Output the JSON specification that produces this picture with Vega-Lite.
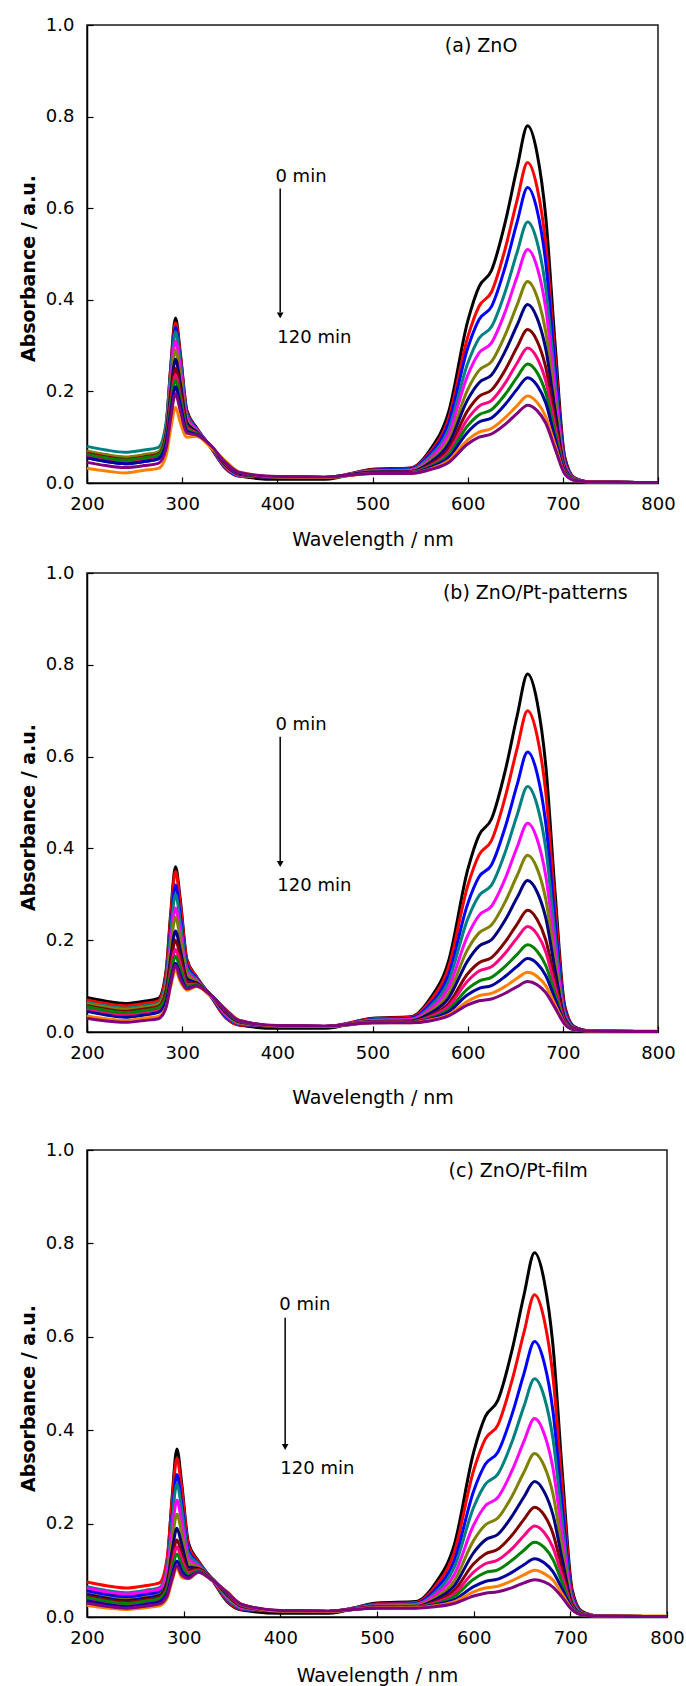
{
"$schema": "https://vega.github.io/schema/vega-lite/v6.json",
"background": "white",
"padding": {"left": 18, "top": 15, "right": 5, "bottom": 0},
"spacing": 13,
"config": {
 "font": "DejaVu Sans",
 "view": {"stroke": "#1a1a1a", "strokeWidth": 1.5},
 "axis": {"domainColor": "#000", "domainWidth": 1.5, "tickColor": "#000", "tickWidth": 1.2, "tickSize": -6, "labelFont": "DejaVu Sans", "labelFontSize": 18, "labelColor": "#000", "titleFont": "DejaVu Sans", "titleFontSize": 19, "titleColor": "#000", "grid": false, "labelFlush": false, "labelOverlap": false},
 "axisX": {"labelPadding": 18, "titleFontWeight": "normal"},
 "axisY": {"labelPadding": 19, "titleFontWeight": "bold", "titlePadding": 7},
 "line": {"strokeWidth": 3, "interpolate": "monotone"}
},
"datasets": {
"a": [
{"t":0,"x":200,"y":0.060},{"t":0,"x":220,"y":0.052},{"t":0,"x":240,"y":0.047},{"t":0,"x":260,"y":0.052},{"t":0,"x":275,"y":0.058},{"t":0,"x":283,"y":0.120},{"t":0,"x":288,"y":0.255},{"t":0,"x":293,"y":0.360},{"t":0,"x":298,"y":0.285},{"t":0,"x":305,"y":0.158},{"t":0,"x":315,"y":0.121},{"t":0,"x":330,"y":0.078},{"t":0,"x":345,"y":0.033},{"t":0,"x":360,"y":0.015},{"t":0,"x":400,"y":0.008},{"t":0,"x":450,"y":0.008},{"t":0,"x":500,"y":0.030},{"t":0,"x":540,"y":0.033},{"t":0,"x":560,"y":0.071},{"t":0,"x":580,"y":0.155},{"t":0,"x":600,"y":0.353},{"t":0,"x":612,"y":0.429},{"t":0,"x":625,"y":0.464},{"t":0,"x":640,"y":0.574},{"t":0,"x":652,"y":0.689},{"t":0,"x":663,"y":0.780},{"t":0,"x":673,"y":0.719},{"t":0,"x":682,"y":0.582},{"t":0,"x":692,"y":0.300},{"t":0,"x":702,"y":0.057},{"t":0,"x":712,"y":0.012},{"t":0,"x":730,"y":0.002},{"t":0,"x":800,"y":0.001},
{"t":10,"x":200,"y":0.065},{"t":10,"x":220,"y":0.057},{"t":10,"x":240,"y":0.052},{"t":10,"x":260,"y":0.057},{"t":10,"x":275,"y":0.063},{"t":10,"x":283,"y":0.122},{"t":10,"x":288,"y":0.250},{"t":10,"x":293,"y":0.350},{"t":10,"x":298,"y":0.279},{"t":10,"x":305,"y":0.155},{"t":10,"x":315,"y":0.120},{"t":10,"x":330,"y":0.078},{"t":10,"x":345,"y":0.034},{"t":10,"x":360,"y":0.015},{"t":10,"x":400,"y":0.013},{"t":10,"x":450,"y":0.012},{"t":10,"x":500,"y":0.029},{"t":10,"x":540,"y":0.032},{"t":10,"x":560,"y":0.066},{"t":10,"x":580,"y":0.141},{"t":10,"x":600,"y":0.318},{"t":10,"x":612,"y":0.386},{"t":10,"x":625,"y":0.417},{"t":10,"x":640,"y":0.516},{"t":10,"x":652,"y":0.618},{"t":10,"x":663,"y":0.700},{"t":10,"x":673,"y":0.645},{"t":10,"x":682,"y":0.523},{"t":10,"x":692,"y":0.270},{"t":10,"x":702,"y":0.052},{"t":10,"x":712,"y":0.011},{"t":10,"x":730,"y":0.002},{"t":10,"x":800,"y":0.001},
{"t":20,"x":200,"y":0.055},{"t":20,"x":220,"y":0.047},{"t":20,"x":240,"y":0.042},{"t":20,"x":260,"y":0.047},{"t":20,"x":275,"y":0.053},{"t":20,"x":283,"y":0.112},{"t":20,"x":288,"y":0.240},{"t":20,"x":293,"y":0.340},{"t":20,"x":298,"y":0.269},{"t":20,"x":305,"y":0.152},{"t":20,"x":315,"y":0.119},{"t":20,"x":330,"y":0.079},{"t":20,"x":345,"y":0.035},{"t":20,"x":360,"y":0.016},{"t":20,"x":400,"y":0.013},{"t":20,"x":450,"y":0.012},{"t":20,"x":500,"y":0.028},{"t":20,"x":540,"y":0.031},{"t":20,"x":560,"y":0.062},{"t":20,"x":580,"y":0.131},{"t":20,"x":600,"y":0.294},{"t":20,"x":612,"y":0.357},{"t":20,"x":625,"y":0.385},{"t":20,"x":640,"y":0.476},{"t":20,"x":652,"y":0.570},{"t":20,"x":663,"y":0.645},{"t":20,"x":673,"y":0.595},{"t":20,"x":682,"y":0.482},{"t":20,"x":692,"y":0.250},{"t":20,"x":702,"y":0.049},{"t":20,"x":712,"y":0.010},{"t":20,"x":730,"y":0.002},{"t":20,"x":800,"y":0.001},
{"t":30,"x":200,"y":0.080},{"t":30,"x":220,"y":0.072},{"t":30,"x":240,"y":0.067},{"t":30,"x":260,"y":0.072},{"t":30,"x":275,"y":0.078},{"t":30,"x":283,"y":0.130},{"t":30,"x":288,"y":0.243},{"t":30,"x":293,"y":0.330},{"t":30,"x":298,"y":0.268},{"t":30,"x":305,"y":0.149},{"t":30,"x":315,"y":0.118},{"t":30,"x":330,"y":0.079},{"t":30,"x":345,"y":0.036},{"t":30,"x":360,"y":0.016},{"t":30,"x":400,"y":0.013},{"t":30,"x":450,"y":0.012},{"t":30,"x":500,"y":0.027},{"t":30,"x":540,"y":0.029},{"t":30,"x":560,"y":0.057},{"t":30,"x":580,"y":0.117},{"t":30,"x":600,"y":0.261},{"t":30,"x":612,"y":0.316},{"t":30,"x":625,"y":0.341},{"t":30,"x":640,"y":0.421},{"t":30,"x":652,"y":0.504},{"t":30,"x":663,"y":0.570},{"t":30,"x":673,"y":0.526},{"t":30,"x":682,"y":0.426},{"t":30,"x":692,"y":0.222},{"t":30,"x":702,"y":0.044},{"t":30,"x":712,"y":0.010},{"t":30,"x":730,"y":0.002},{"t":30,"x":800,"y":0.001},
{"t":40,"x":200,"y":0.068},{"t":40,"x":220,"y":0.060},{"t":40,"x":240,"y":0.055},{"t":40,"x":260,"y":0.060},{"t":40,"x":275,"y":0.066},{"t":40,"x":283,"y":0.116},{"t":40,"x":288,"y":0.225},{"t":40,"x":293,"y":0.310},{"t":40,"x":298,"y":0.250},{"t":40,"x":305,"y":0.143},{"t":40,"x":315,"y":0.116},{"t":40,"x":330,"y":0.080},{"t":40,"x":345,"y":0.037},{"t":40,"x":360,"y":0.017},{"t":40,"x":400,"y":0.013},{"t":40,"x":450,"y":0.012},{"t":40,"x":500,"y":0.026},{"t":40,"x":540,"y":0.028},{"t":40,"x":560,"y":0.052},{"t":40,"x":580,"y":0.107},{"t":40,"x":600,"y":0.235},{"t":40,"x":612,"y":0.284},{"t":40,"x":625,"y":0.306},{"t":40,"x":640,"y":0.377},{"t":40,"x":652,"y":0.451},{"t":40,"x":663,"y":0.510},{"t":40,"x":673,"y":0.471},{"t":40,"x":682,"y":0.382},{"t":40,"x":692,"y":0.200},{"t":40,"x":702,"y":0.041},{"t":40,"x":712,"y":0.009},{"t":40,"x":730,"y":0.002},{"t":40,"x":800,"y":0.001},
{"t":50,"x":200,"y":0.070},{"t":50,"x":220,"y":0.062},{"t":50,"x":240,"y":0.057},{"t":50,"x":260,"y":0.062},{"t":50,"x":275,"y":0.068},{"t":50,"x":283,"y":0.114},{"t":50,"x":288,"y":0.213},{"t":50,"x":293,"y":0.290},{"t":50,"x":298,"y":0.235},{"t":50,"x":305,"y":0.137},{"t":50,"x":315,"y":0.114},{"t":50,"x":330,"y":0.080},{"t":50,"x":345,"y":0.039},{"t":50,"x":360,"y":0.018},{"t":50,"x":400,"y":0.013},{"t":50,"x":450,"y":0.012},{"t":50,"x":500,"y":0.025},{"t":50,"x":540,"y":0.026},{"t":50,"x":560,"y":0.048},{"t":50,"x":580,"y":0.094},{"t":50,"x":600,"y":0.204},{"t":50,"x":612,"y":0.246},{"t":50,"x":625,"y":0.265},{"t":50,"x":640,"y":0.326},{"t":50,"x":652,"y":0.389},{"t":50,"x":663,"y":0.440},{"t":50,"x":673,"y":0.406},{"t":50,"x":682,"y":0.330},{"t":50,"x":692,"y":0.174},{"t":50,"x":702,"y":0.036},{"t":50,"x":712,"y":0.008},{"t":50,"x":730,"y":0.002},{"t":50,"x":800,"y":0.001},
{"t":60,"x":200,"y":0.062},{"t":60,"x":220,"y":0.054},{"t":60,"x":240,"y":0.049},{"t":60,"x":260,"y":0.054},{"t":60,"x":275,"y":0.060},{"t":60,"x":283,"y":0.104},{"t":60,"x":288,"y":0.197},{"t":60,"x":293,"y":0.270},{"t":60,"x":298,"y":0.218},{"t":60,"x":305,"y":0.131},{"t":60,"x":315,"y":0.112},{"t":60,"x":330,"y":0.080},{"t":60,"x":345,"y":0.040},{"t":60,"x":360,"y":0.019},{"t":60,"x":400,"y":0.013},{"t":60,"x":450,"y":0.012},{"t":60,"x":500,"y":0.024},{"t":60,"x":540,"y":0.025},{"t":60,"x":560,"y":0.044},{"t":60,"x":580,"y":0.085},{"t":60,"x":600,"y":0.182},{"t":60,"x":612,"y":0.219},{"t":60,"x":625,"y":0.236},{"t":60,"x":640,"y":0.290},{"t":60,"x":652,"y":0.345},{"t":60,"x":663,"y":0.390},{"t":60,"x":673,"y":0.360},{"t":60,"x":682,"y":0.293},{"t":60,"x":692,"y":0.156},{"t":60,"x":702,"y":0.033},{"t":60,"x":712,"y":0.008},{"t":60,"x":730,"y":0.002},{"t":60,"x":800,"y":0.001},
{"t":70,"x":200,"y":0.065},{"t":70,"x":220,"y":0.057},{"t":70,"x":240,"y":0.052},{"t":70,"x":260,"y":0.057},{"t":70,"x":275,"y":0.063},{"t":70,"x":283,"y":0.102},{"t":70,"x":288,"y":0.185},{"t":70,"x":293,"y":0.250},{"t":70,"x":298,"y":0.204},{"t":70,"x":305,"y":0.125},{"t":70,"x":315,"y":0.110},{"t":70,"x":330,"y":0.080},{"t":70,"x":345,"y":0.042},{"t":70,"x":360,"y":0.020},{"t":70,"x":400,"y":0.013},{"t":70,"x":450,"y":0.012},{"t":70,"x":500,"y":0.023},{"t":70,"x":540,"y":0.024},{"t":70,"x":560,"y":0.040},{"t":70,"x":580,"y":0.075},{"t":70,"x":600,"y":0.158},{"t":70,"x":612,"y":0.189},{"t":70,"x":625,"y":0.203},{"t":70,"x":640,"y":0.249},{"t":70,"x":652,"y":0.297},{"t":70,"x":663,"y":0.335},{"t":70,"x":673,"y":0.310},{"t":70,"x":682,"y":0.253},{"t":70,"x":692,"y":0.135},{"t":70,"x":702,"y":0.030},{"t":70,"x":712,"y":0.007},{"t":70,"x":730,"y":0.002},{"t":70,"x":800,"y":0.001},
{"t":80,"x":200,"y":0.060},{"t":80,"x":220,"y":0.052},{"t":80,"x":240,"y":0.047},{"t":80,"x":260,"y":0.052},{"t":80,"x":275,"y":0.058},{"t":80,"x":283,"y":0.095},{"t":80,"x":288,"y":0.174},{"t":80,"x":293,"y":0.235},{"t":80,"x":298,"y":0.191},{"t":80,"x":305,"y":0.121},{"t":80,"x":315,"y":0.109},{"t":80,"x":330,"y":0.081},{"t":80,"x":345,"y":0.043},{"t":80,"x":360,"y":0.021},{"t":80,"x":400,"y":0.013},{"t":80,"x":450,"y":0.012},{"t":80,"x":500,"y":0.022},{"t":80,"x":540,"y":0.024},{"t":80,"x":560,"y":0.037},{"t":80,"x":580,"y":0.068},{"t":80,"x":600,"y":0.140},{"t":80,"x":612,"y":0.168},{"t":80,"x":625,"y":0.180},{"t":80,"x":640,"y":0.220},{"t":80,"x":652,"y":0.262},{"t":80,"x":663,"y":0.295},{"t":80,"x":673,"y":0.273},{"t":80,"x":682,"y":0.223},{"t":80,"x":692,"y":0.121},{"t":80,"x":702,"y":0.028},{"t":80,"x":712,"y":0.007},{"t":80,"x":730,"y":0.002},{"t":80,"x":800,"y":0.001},
{"t":90,"x":200,"y":0.063},{"t":90,"x":220,"y":0.055},{"t":90,"x":240,"y":0.050},{"t":90,"x":260,"y":0.055},{"t":90,"x":275,"y":0.061},{"t":90,"x":283,"y":0.095},{"t":90,"x":288,"y":0.168},{"t":90,"x":293,"y":0.225},{"t":90,"x":298,"y":0.185},{"t":90,"x":305,"y":0.118},{"t":90,"x":315,"y":0.108},{"t":90,"x":330,"y":0.081},{"t":90,"x":345,"y":0.044},{"t":90,"x":360,"y":0.021},{"t":90,"x":400,"y":0.013},{"t":90,"x":450,"y":0.012},{"t":90,"x":500,"y":0.022},{"t":90,"x":540,"y":0.023},{"t":90,"x":560,"y":0.035},{"t":90,"x":580,"y":0.062},{"t":90,"x":600,"y":0.125},{"t":90,"x":612,"y":0.149},{"t":90,"x":625,"y":0.160},{"t":90,"x":640,"y":0.195},{"t":90,"x":652,"y":0.231},{"t":90,"x":663,"y":0.260},{"t":90,"x":673,"y":0.241},{"t":90,"x":682,"y":0.197},{"t":90,"x":692,"y":0.108},{"t":90,"x":702,"y":0.026},{"t":90,"x":712,"y":0.007},{"t":90,"x":730,"y":0.002},{"t":90,"x":800,"y":0.001},
{"t":100,"x":200,"y":0.055},{"t":100,"x":220,"y":0.047},{"t":100,"x":240,"y":0.042},{"t":100,"x":260,"y":0.047},{"t":100,"x":275,"y":0.053},{"t":100,"x":283,"y":0.086},{"t":100,"x":288,"y":0.155},{"t":100,"x":293,"y":0.210},{"t":100,"x":298,"y":0.171},{"t":100,"x":305,"y":0.113},{"t":100,"x":315,"y":0.106},{"t":100,"x":330,"y":0.081},{"t":100,"x":345,"y":0.045},{"t":100,"x":360,"y":0.022},{"t":100,"x":400,"y":0.013},{"t":100,"x":450,"y":0.012},{"t":100,"x":500,"y":0.022},{"t":100,"x":540,"y":0.022},{"t":100,"x":560,"y":0.033},{"t":100,"x":580,"y":0.056},{"t":100,"x":600,"y":0.111},{"t":100,"x":612,"y":0.133},{"t":100,"x":625,"y":0.142},{"t":100,"x":640,"y":0.173},{"t":100,"x":652,"y":0.205},{"t":100,"x":663,"y":0.230},{"t":100,"x":673,"y":0.213},{"t":100,"x":682,"y":0.175},{"t":100,"x":692,"y":0.096},{"t":100,"x":702,"y":0.024},{"t":100,"x":712,"y":0.006},{"t":100,"x":730,"y":0.002},{"t":100,"x":800,"y":0.001},
{"t":110,"x":200,"y":0.032},{"t":110,"x":220,"y":0.026},{"t":110,"x":240,"y":0.022},{"t":110,"x":260,"y":0.028},{"t":110,"x":275,"y":0.032},{"t":110,"x":283,"y":0.059},{"t":110,"x":288,"y":0.119},{"t":110,"x":293,"y":0.165},{"t":110,"x":298,"y":0.132},{"t":110,"x":305,"y":0.100},{"t":110,"x":315,"y":0.102},{"t":110,"x":330,"y":0.078},{"t":110,"x":345,"y":0.049},{"t":110,"x":360,"y":0.024},{"t":110,"x":400,"y":0.013},{"t":110,"x":450,"y":0.012},{"t":110,"x":500,"y":0.021},{"t":110,"x":540,"y":0.021},{"t":110,"x":560,"y":0.030},{"t":110,"x":580,"y":0.049},{"t":110,"x":600,"y":0.094},{"t":110,"x":612,"y":0.111},{"t":110,"x":625,"y":0.119},{"t":110,"x":640,"y":0.144},{"t":110,"x":652,"y":0.169},{"t":110,"x":663,"y":0.190},{"t":110,"x":673,"y":0.176},{"t":110,"x":682,"y":0.145},{"t":110,"x":692,"y":0.082},{"t":110,"x":702,"y":0.021},{"t":110,"x":712,"y":0.006},{"t":110,"x":730,"y":0.002},{"t":110,"x":800,"y":0.001},
{"t":120,"x":200,"y":0.045},{"t":120,"x":220,"y":0.038},{"t":120,"x":240,"y":0.034},{"t":120,"x":260,"y":0.038},{"t":120,"x":275,"y":0.043},{"t":120,"x":283,"y":0.075},{"t":120,"x":288,"y":0.143},{"t":120,"x":293,"y":0.195},{"t":120,"x":298,"y":0.158},{"t":120,"x":305,"y":0.109},{"t":120,"x":315,"y":0.105},{"t":120,"x":330,"y":0.082},{"t":120,"x":345,"y":0.046},{"t":120,"x":360,"y":0.023},{"t":120,"x":400,"y":0.014},{"t":120,"x":450,"y":0.013},{"t":120,"x":500,"y":0.021},{"t":120,"x":540,"y":0.021},{"t":120,"x":560,"y":0.029},{"t":120,"x":580,"y":0.045},{"t":120,"x":600,"y":0.085},{"t":120,"x":612,"y":0.100},{"t":120,"x":625,"y":0.107},{"t":120,"x":640,"y":0.129},{"t":120,"x":652,"y":0.152},{"t":120,"x":663,"y":0.170},{"t":120,"x":673,"y":0.158},{"t":120,"x":682,"y":0.131},{"t":120,"x":692,"y":0.074},{"t":120,"x":702,"y":0.020},{"t":120,"x":712,"y":0.006},{"t":120,"x":730,"y":0.002},{"t":120,"x":800,"y":0.001}
],
"b": [
{"t":0,"x":200,"y":0.075},{"t":0,"x":220,"y":0.067},{"t":0,"x":240,"y":0.062},{"t":0,"x":260,"y":0.067},{"t":0,"x":275,"y":0.073},{"t":0,"x":283,"y":0.132},{"t":0,"x":288,"y":0.260},{"t":0,"x":293,"y":0.360},{"t":0,"x":298,"y":0.289},{"t":0,"x":305,"y":0.158},{"t":0,"x":315,"y":0.121},{"t":0,"x":330,"y":0.078},{"t":0,"x":345,"y":0.033},{"t":0,"x":360,"y":0.015},{"t":0,"x":400,"y":0.008},{"t":0,"x":450,"y":0.008},{"t":0,"x":500,"y":0.030},{"t":0,"x":540,"y":0.033},{"t":0,"x":560,"y":0.071},{"t":0,"x":580,"y":0.155},{"t":0,"x":600,"y":0.353},{"t":0,"x":612,"y":0.429},{"t":0,"x":625,"y":0.464},{"t":0,"x":640,"y":0.574},{"t":0,"x":652,"y":0.689},{"t":0,"x":663,"y":0.780},{"t":0,"x":673,"y":0.719},{"t":0,"x":682,"y":0.582},{"t":0,"x":692,"y":0.300},{"t":0,"x":702,"y":0.057},{"t":0,"x":712,"y":0.012},{"t":0,"x":730,"y":0.002},{"t":0,"x":800,"y":0.001},
{"t":10,"x":200,"y":0.070},{"t":10,"x":220,"y":0.062},{"t":10,"x":240,"y":0.057},{"t":10,"x":260,"y":0.062},{"t":10,"x":275,"y":0.068},{"t":10,"x":283,"y":0.126},{"t":10,"x":288,"y":0.252},{"t":10,"x":293,"y":0.350},{"t":10,"x":298,"y":0.280},{"t":10,"x":305,"y":0.155},{"t":10,"x":315,"y":0.120},{"t":10,"x":330,"y":0.078},{"t":10,"x":345,"y":0.034},{"t":10,"x":360,"y":0.015},{"t":10,"x":400,"y":0.013},{"t":10,"x":450,"y":0.012},{"t":10,"x":500,"y":0.029},{"t":10,"x":540,"y":0.032},{"t":10,"x":560,"y":0.066},{"t":10,"x":580,"y":0.141},{"t":10,"x":600,"y":0.318},{"t":10,"x":612,"y":0.386},{"t":10,"x":625,"y":0.417},{"t":10,"x":640,"y":0.516},{"t":10,"x":652,"y":0.618},{"t":10,"x":663,"y":0.700},{"t":10,"x":673,"y":0.645},{"t":10,"x":682,"y":0.523},{"t":10,"x":692,"y":0.270},{"t":10,"x":702,"y":0.052},{"t":10,"x":712,"y":0.011},{"t":10,"x":730,"y":0.002},{"t":10,"x":800,"y":0.001},
{"t":20,"x":200,"y":0.060},{"t":20,"x":220,"y":0.052},{"t":20,"x":240,"y":0.047},{"t":20,"x":260,"y":0.052},{"t":20,"x":275,"y":0.058},{"t":20,"x":283,"y":0.112},{"t":20,"x":288,"y":0.229},{"t":20,"x":293,"y":0.320},{"t":20,"x":298,"y":0.255},{"t":20,"x":305,"y":0.146},{"t":20,"x":315,"y":0.117},{"t":20,"x":330,"y":0.079},{"t":20,"x":345,"y":0.036},{"t":20,"x":360,"y":0.017},{"t":20,"x":400,"y":0.013},{"t":20,"x":450,"y":0.012},{"t":20,"x":500,"y":0.027},{"t":20,"x":540,"y":0.030},{"t":20,"x":560,"y":0.059},{"t":20,"x":580,"y":0.125},{"t":20,"x":600,"y":0.279},{"t":20,"x":612,"y":0.338},{"t":20,"x":625,"y":0.364},{"t":20,"x":640,"y":0.450},{"t":20,"x":652,"y":0.539},{"t":20,"x":663,"y":0.610},{"t":20,"x":673,"y":0.563},{"t":20,"x":682,"y":0.456},{"t":20,"x":692,"y":0.237},{"t":20,"x":702,"y":0.047},{"t":20,"x":712,"y":0.010},{"t":20,"x":730,"y":0.002},{"t":20,"x":800,"y":0.001},
{"t":30,"x":200,"y":0.065},{"t":30,"x":220,"y":0.057},{"t":30,"x":240,"y":0.052},{"t":30,"x":260,"y":0.057},{"t":30,"x":275,"y":0.063},{"t":30,"x":283,"y":0.112},{"t":30,"x":288,"y":0.218},{"t":30,"x":293,"y":0.300},{"t":30,"x":298,"y":0.241},{"t":30,"x":305,"y":0.140},{"t":30,"x":315,"y":0.115},{"t":30,"x":330,"y":0.080},{"t":30,"x":345,"y":0.038},{"t":30,"x":360,"y":0.018},{"t":30,"x":400,"y":0.013},{"t":30,"x":450,"y":0.012},{"t":30,"x":500,"y":0.026},{"t":30,"x":540,"y":0.028},{"t":30,"x":560,"y":0.054},{"t":30,"x":580,"y":0.111},{"t":30,"x":600,"y":0.246},{"t":30,"x":612,"y":0.297},{"t":30,"x":625,"y":0.320},{"t":30,"x":640,"y":0.395},{"t":30,"x":652,"y":0.473},{"t":30,"x":663,"y":0.535},{"t":30,"x":673,"y":0.494},{"t":30,"x":682,"y":0.401},{"t":30,"x":692,"y":0.209},{"t":30,"x":702,"y":0.042},{"t":30,"x":712,"y":0.009},{"t":30,"x":730,"y":0.002},{"t":30,"x":800,"y":0.001},
{"t":40,"x":200,"y":0.060},{"t":40,"x":220,"y":0.052},{"t":40,"x":240,"y":0.047},{"t":40,"x":260,"y":0.052},{"t":40,"x":275,"y":0.058},{"t":40,"x":283,"y":0.102},{"t":40,"x":288,"y":0.197},{"t":40,"x":293,"y":0.270},{"t":40,"x":298,"y":0.218},{"t":40,"x":305,"y":0.131},{"t":40,"x":315,"y":0.112},{"t":40,"x":330,"y":0.080},{"t":40,"x":345,"y":0.040},{"t":40,"x":360,"y":0.019},{"t":40,"x":400,"y":0.013},{"t":40,"x":450,"y":0.012},{"t":40,"x":500,"y":0.025},{"t":40,"x":540,"y":0.027},{"t":40,"x":560,"y":0.049},{"t":40,"x":580,"y":0.097},{"t":40,"x":600,"y":0.210},{"t":40,"x":612,"y":0.254},{"t":40,"x":625,"y":0.274},{"t":40,"x":640,"y":0.337},{"t":40,"x":652,"y":0.403},{"t":40,"x":663,"y":0.455},{"t":40,"x":673,"y":0.420},{"t":40,"x":682,"y":0.341},{"t":40,"x":692,"y":0.180},{"t":40,"x":702,"y":0.037},{"t":40,"x":712,"y":0.009},{"t":40,"x":730,"y":0.002},{"t":40,"x":800,"y":0.001},
{"t":50,"x":200,"y":0.062},{"t":50,"x":220,"y":0.054},{"t":50,"x":240,"y":0.049},{"t":50,"x":260,"y":0.054},{"t":50,"x":275,"y":0.060},{"t":50,"x":283,"y":0.100},{"t":50,"x":288,"y":0.184},{"t":50,"x":293,"y":0.250},{"t":50,"x":298,"y":0.203},{"t":50,"x":305,"y":0.125},{"t":50,"x":315,"y":0.110},{"t":50,"x":330,"y":0.080},{"t":50,"x":345,"y":0.042},{"t":50,"x":360,"y":0.020},{"t":50,"x":400,"y":0.013},{"t":50,"x":450,"y":0.012},{"t":50,"x":500,"y":0.024},{"t":50,"x":540,"y":0.025},{"t":50,"x":560,"y":0.044},{"t":50,"x":580,"y":0.084},{"t":50,"x":600,"y":0.180},{"t":50,"x":612,"y":0.216},{"t":50,"x":625,"y":0.233},{"t":50,"x":640,"y":0.286},{"t":50,"x":652,"y":0.341},{"t":50,"x":663,"y":0.385},{"t":50,"x":673,"y":0.356},{"t":50,"x":682,"y":0.290},{"t":50,"x":692,"y":0.154},{"t":50,"x":702,"y":0.033},{"t":50,"x":712,"y":0.008},{"t":50,"x":730,"y":0.002},{"t":50,"x":800,"y":0.001},
{"t":60,"x":200,"y":0.055},{"t":60,"x":220,"y":0.047},{"t":60,"x":240,"y":0.042},{"t":60,"x":260,"y":0.047},{"t":60,"x":275,"y":0.053},{"t":60,"x":283,"y":0.088},{"t":60,"x":288,"y":0.162},{"t":60,"x":293,"y":0.220},{"t":60,"x":298,"y":0.179},{"t":60,"x":305,"y":0.116},{"t":60,"x":315,"y":0.107},{"t":60,"x":330,"y":0.081},{"t":60,"x":345,"y":0.044},{"t":60,"x":360,"y":0.022},{"t":60,"x":400,"y":0.013},{"t":60,"x":450,"y":0.012},{"t":60,"x":500,"y":0.023},{"t":60,"x":540,"y":0.024},{"t":60,"x":560,"y":0.040},{"t":60,"x":580,"y":0.074},{"t":60,"x":600,"y":0.155},{"t":60,"x":612,"y":0.187},{"t":60,"x":625,"y":0.201},{"t":60,"x":640,"y":0.246},{"t":60,"x":652,"y":0.293},{"t":60,"x":663,"y":0.330},{"t":60,"x":673,"y":0.305},{"t":60,"x":682,"y":0.249},{"t":60,"x":692,"y":0.133},{"t":60,"x":702,"y":0.030},{"t":60,"x":712,"y":0.007},{"t":60,"x":730,"y":0.002},{"t":60,"x":800,"y":0.001},
{"t":70,"x":200,"y":0.058},{"t":70,"x":220,"y":0.050},{"t":70,"x":240,"y":0.045},{"t":70,"x":260,"y":0.050},{"t":70,"x":275,"y":0.056},{"t":70,"x":283,"y":0.086},{"t":70,"x":288,"y":0.150},{"t":70,"x":293,"y":0.200},{"t":70,"x":298,"y":0.165},{"t":70,"x":305,"y":0.110},{"t":70,"x":315,"y":0.105},{"t":70,"x":330,"y":0.081},{"t":70,"x":345,"y":0.046},{"t":70,"x":360,"y":0.023},{"t":70,"x":400,"y":0.013},{"t":70,"x":450,"y":0.012},{"t":70,"x":500,"y":0.022},{"t":70,"x":540,"y":0.023},{"t":70,"x":560,"y":0.035},{"t":70,"x":580,"y":0.062},{"t":70,"x":600,"y":0.127},{"t":70,"x":612,"y":0.151},{"t":70,"x":625,"y":0.162},{"t":70,"x":640,"y":0.198},{"t":70,"x":652,"y":0.235},{"t":70,"x":663,"y":0.265},{"t":70,"x":673,"y":0.245},{"t":70,"x":682,"y":0.201},{"t":70,"x":692,"y":0.109},{"t":70,"x":702,"y":0.026},{"t":70,"x":712,"y":0.007},{"t":70,"x":730,"y":0.002},{"t":70,"x":800,"y":0.001},
{"t":80,"x":200,"y":0.050},{"t":80,"x":220,"y":0.042},{"t":80,"x":240,"y":0.037},{"t":80,"x":260,"y":0.042},{"t":80,"x":275,"y":0.048},{"t":80,"x":283,"y":0.076},{"t":80,"x":288,"y":0.135},{"t":80,"x":293,"y":0.180},{"t":80,"x":298,"y":0.148},{"t":80,"x":305,"y":0.104},{"t":80,"x":315,"y":0.103},{"t":80,"x":330,"y":0.081},{"t":80,"x":345,"y":0.048},{"t":80,"x":360,"y":0.024},{"t":80,"x":400,"y":0.013},{"t":80,"x":450,"y":0.012},{"t":80,"x":500,"y":0.022},{"t":80,"x":540,"y":0.022},{"t":80,"x":560,"y":0.033},{"t":80,"x":580,"y":0.056},{"t":80,"x":600,"y":0.111},{"t":80,"x":612,"y":0.133},{"t":80,"x":625,"y":0.142},{"t":80,"x":640,"y":0.173},{"t":80,"x":652,"y":0.205},{"t":80,"x":663,"y":0.230},{"t":80,"x":673,"y":0.213},{"t":80,"x":682,"y":0.175},{"t":80,"x":692,"y":0.096},{"t":80,"x":702,"y":0.024},{"t":80,"x":712,"y":0.006},{"t":80,"x":730,"y":0.002},{"t":80,"x":800,"y":0.001},
{"t":90,"x":200,"y":0.055},{"t":90,"x":220,"y":0.047},{"t":90,"x":240,"y":0.042},{"t":90,"x":260,"y":0.047},{"t":90,"x":275,"y":0.053},{"t":90,"x":283,"y":0.077},{"t":90,"x":288,"y":0.127},{"t":90,"x":293,"y":0.165},{"t":90,"x":298,"y":0.138},{"t":90,"x":305,"y":0.100},{"t":90,"x":315,"y":0.102},{"t":90,"x":330,"y":0.081},{"t":90,"x":345,"y":0.049},{"t":90,"x":360,"y":0.024},{"t":90,"x":400,"y":0.013},{"t":90,"x":450,"y":0.012},{"t":90,"x":500,"y":0.021},{"t":90,"x":540,"y":0.021},{"t":90,"x":560,"y":0.030},{"t":90,"x":580,"y":0.049},{"t":90,"x":600,"y":0.094},{"t":90,"x":612,"y":0.111},{"t":90,"x":625,"y":0.119},{"t":90,"x":640,"y":0.144},{"t":90,"x":652,"y":0.169},{"t":90,"x":663,"y":0.190},{"t":90,"x":673,"y":0.176},{"t":90,"x":682,"y":0.145},{"t":90,"x":692,"y":0.082},{"t":90,"x":702,"y":0.021},{"t":90,"x":712,"y":0.006},{"t":90,"x":730,"y":0.002},{"t":90,"x":800,"y":0.001},
{"t":100,"x":200,"y":0.045},{"t":100,"x":220,"y":0.037},{"t":100,"x":240,"y":0.032},{"t":100,"x":260,"y":0.037},{"t":100,"x":275,"y":0.043},{"t":100,"x":283,"y":0.066},{"t":100,"x":288,"y":0.113},{"t":100,"x":293,"y":0.150},{"t":100,"x":298,"y":0.124},{"t":100,"x":305,"y":0.095},{"t":100,"x":315,"y":0.100},{"t":100,"x":330,"y":0.080},{"t":100,"x":345,"y":0.050},{"t":100,"x":360,"y":0.025},{"t":100,"x":400,"y":0.013},{"t":100,"x":450,"y":0.012},{"t":100,"x":500,"y":0.020},{"t":100,"x":540,"y":0.021},{"t":100,"x":560,"y":0.028},{"t":100,"x":580,"y":0.044},{"t":100,"x":600,"y":0.081},{"t":100,"x":612,"y":0.095},{"t":100,"x":625,"y":0.101},{"t":100,"x":640,"y":0.122},{"t":100,"x":652,"y":0.143},{"t":100,"x":663,"y":0.160},{"t":100,"x":673,"y":0.149},{"t":100,"x":682,"y":0.123},{"t":100,"x":692,"y":0.071},{"t":100,"x":702,"y":0.020},{"t":100,"x":712,"y":0.006},{"t":100,"x":730,"y":0.002},{"t":100,"x":800,"y":0.001},
{"t":110,"x":200,"y":0.035},{"t":110,"x":220,"y":0.029},{"t":110,"x":240,"y":0.025},{"t":110,"x":260,"y":0.030},{"t":110,"x":275,"y":0.034},{"t":110,"x":283,"y":0.055},{"t":110,"x":288,"y":0.100},{"t":110,"x":293,"y":0.135},{"t":110,"x":298,"y":0.110},{"t":110,"x":305,"y":0.091},{"t":110,"x":315,"y":0.099},{"t":110,"x":330,"y":0.078},{"t":110,"x":345,"y":0.051},{"t":110,"x":360,"y":0.026},{"t":110,"x":400,"y":0.013},{"t":110,"x":450,"y":0.012},{"t":110,"x":500,"y":0.020},{"t":110,"x":540,"y":0.020},{"t":110,"x":560,"y":0.026},{"t":110,"x":580,"y":0.038},{"t":110,"x":600,"y":0.067},{"t":110,"x":612,"y":0.079},{"t":110,"x":625,"y":0.084},{"t":110,"x":640,"y":0.100},{"t":110,"x":652,"y":0.117},{"t":110,"x":663,"y":0.130},{"t":110,"x":673,"y":0.121},{"t":110,"x":682,"y":0.101},{"t":110,"x":692,"y":0.059},{"t":110,"x":702,"y":0.018},{"t":110,"x":712,"y":0.005},{"t":110,"x":730,"y":0.002},{"t":110,"x":800,"y":0.002},
{"t":120,"x":200,"y":0.030},{"t":120,"x":220,"y":0.024},{"t":120,"x":240,"y":0.021},{"t":120,"x":260,"y":0.025},{"t":120,"x":275,"y":0.029},{"t":120,"x":283,"y":0.053},{"t":120,"x":288,"y":0.105},{"t":120,"x":293,"y":0.145},{"t":120,"x":298,"y":0.116},{"t":120,"x":305,"y":0.094},{"t":120,"x":315,"y":0.100},{"t":120,"x":330,"y":0.080},{"t":120,"x":345,"y":0.050},{"t":120,"x":360,"y":0.025},{"t":120,"x":400,"y":0.014},{"t":120,"x":450,"y":0.013},{"t":120,"x":500,"y":0.020},{"t":120,"x":540,"y":0.020},{"t":120,"x":560,"y":0.024},{"t":120,"x":580,"y":0.035},{"t":120,"x":600,"y":0.059},{"t":120,"x":612,"y":0.068},{"t":120,"x":625,"y":0.072},{"t":120,"x":640,"y":0.085},{"t":120,"x":652,"y":0.099},{"t":120,"x":663,"y":0.110},{"t":120,"x":673,"y":0.103},{"t":120,"x":682,"y":0.086},{"t":120,"x":692,"y":0.052},{"t":120,"x":702,"y":0.017},{"t":120,"x":712,"y":0.005},{"t":120,"x":730,"y":0.002},{"t":120,"x":800,"y":0.001}
],
"c": [
{"t":0,"x":200,"y":0.060},{"t":0,"x":220,"y":0.052},{"t":0,"x":240,"y":0.047},{"t":0,"x":260,"y":0.052},{"t":0,"x":275,"y":0.058},{"t":0,"x":283,"y":0.120},{"t":0,"x":288,"y":0.255},{"t":0,"x":293,"y":0.360},{"t":0,"x":298,"y":0.285},{"t":0,"x":305,"y":0.158},{"t":0,"x":315,"y":0.121},{"t":0,"x":330,"y":0.078},{"t":0,"x":345,"y":0.033},{"t":0,"x":360,"y":0.015},{"t":0,"x":400,"y":0.008},{"t":0,"x":450,"y":0.008},{"t":0,"x":500,"y":0.030},{"t":0,"x":540,"y":0.033},{"t":0,"x":560,"y":0.071},{"t":0,"x":580,"y":0.155},{"t":0,"x":600,"y":0.353},{"t":0,"x":612,"y":0.429},{"t":0,"x":625,"y":0.464},{"t":0,"x":640,"y":0.574},{"t":0,"x":652,"y":0.689},{"t":0,"x":663,"y":0.780},{"t":0,"x":673,"y":0.719},{"t":0,"x":682,"y":0.582},{"t":0,"x":692,"y":0.300},{"t":0,"x":702,"y":0.057},{"t":0,"x":712,"y":0.012},{"t":0,"x":730,"y":0.002},{"t":0,"x":800,"y":0.001},
{"t":10,"x":200,"y":0.075},{"t":10,"x":220,"y":0.067},{"t":10,"x":240,"y":0.062},{"t":10,"x":260,"y":0.067},{"t":10,"x":275,"y":0.073},{"t":10,"x":283,"y":0.128},{"t":10,"x":288,"y":0.247},{"t":10,"x":293,"y":0.340},{"t":10,"x":298,"y":0.274},{"t":10,"x":305,"y":0.152},{"t":10,"x":315,"y":0.119},{"t":10,"x":330,"y":0.079},{"t":10,"x":345,"y":0.035},{"t":10,"x":360,"y":0.016},{"t":10,"x":400,"y":0.013},{"t":10,"x":450,"y":0.012},{"t":10,"x":500,"y":0.028},{"t":10,"x":540,"y":0.031},{"t":10,"x":560,"y":0.065},{"t":10,"x":580,"y":0.139},{"t":10,"x":600,"y":0.314},{"t":10,"x":612,"y":0.381},{"t":10,"x":625,"y":0.411},{"t":10,"x":640,"y":0.509},{"t":10,"x":652,"y":0.609},{"t":10,"x":663,"y":0.690},{"t":10,"x":673,"y":0.636},{"t":10,"x":682,"y":0.515},{"t":10,"x":692,"y":0.267},{"t":10,"x":702,"y":0.051},{"t":10,"x":712,"y":0.011},{"t":10,"x":730,"y":0.002},{"t":10,"x":800,"y":0.001},
{"t":20,"x":200,"y":0.055},{"t":20,"x":220,"y":0.047},{"t":20,"x":240,"y":0.042},{"t":20,"x":260,"y":0.047},{"t":20,"x":275,"y":0.053},{"t":20,"x":283,"y":0.105},{"t":20,"x":288,"y":0.218},{"t":20,"x":293,"y":0.305},{"t":20,"x":298,"y":0.243},{"t":20,"x":305,"y":0.142},{"t":20,"x":315,"y":0.116},{"t":20,"x":330,"y":0.080},{"t":20,"x":345,"y":0.038},{"t":20,"x":360,"y":0.017},{"t":20,"x":400,"y":0.013},{"t":20,"x":450,"y":0.012},{"t":20,"x":500,"y":0.027},{"t":20,"x":540,"y":0.029},{"t":20,"x":560,"y":0.058},{"t":20,"x":580,"y":0.121},{"t":20,"x":600,"y":0.270},{"t":20,"x":612,"y":0.327},{"t":20,"x":625,"y":0.353},{"t":20,"x":640,"y":0.436},{"t":20,"x":652,"y":0.521},{"t":20,"x":663,"y":0.590},{"t":20,"x":673,"y":0.544},{"t":20,"x":682,"y":0.441},{"t":20,"x":692,"y":0.230},{"t":20,"x":702,"y":0.045},{"t":20,"x":712,"y":0.010},{"t":20,"x":730,"y":0.002},{"t":20,"x":800,"y":0.001},
{"t":30,"x":200,"y":0.065},{"t":30,"x":220,"y":0.057},{"t":30,"x":240,"y":0.052},{"t":30,"x":260,"y":0.057},{"t":30,"x":275,"y":0.063},{"t":30,"x":283,"y":0.109},{"t":30,"x":288,"y":0.208},{"t":30,"x":293,"y":0.285},{"t":30,"x":298,"y":0.230},{"t":30,"x":305,"y":0.136},{"t":30,"x":315,"y":0.114},{"t":30,"x":330,"y":0.080},{"t":30,"x":345,"y":0.039},{"t":30,"x":360,"y":0.018},{"t":30,"x":400,"y":0.013},{"t":30,"x":450,"y":0.012},{"t":30,"x":500,"y":0.026},{"t":30,"x":540,"y":0.028},{"t":30,"x":560,"y":0.052},{"t":30,"x":580,"y":0.107},{"t":30,"x":600,"y":0.235},{"t":30,"x":612,"y":0.284},{"t":30,"x":625,"y":0.306},{"t":30,"x":640,"y":0.377},{"t":30,"x":652,"y":0.451},{"t":30,"x":663,"y":0.510},{"t":30,"x":673,"y":0.471},{"t":30,"x":682,"y":0.382},{"t":30,"x":692,"y":0.200},{"t":30,"x":702,"y":0.041},{"t":30,"x":712,"y":0.009},{"t":30,"x":730,"y":0.002},{"t":30,"x":800,"y":0.001},
{"t":40,"x":200,"y":0.062},{"t":40,"x":220,"y":0.054},{"t":40,"x":240,"y":0.049},{"t":40,"x":260,"y":0.054},{"t":40,"x":275,"y":0.060},{"t":40,"x":283,"y":0.100},{"t":40,"x":288,"y":0.184},{"t":40,"x":293,"y":0.250},{"t":40,"x":298,"y":0.203},{"t":40,"x":305,"y":0.125},{"t":40,"x":315,"y":0.110},{"t":40,"x":330,"y":0.080},{"t":40,"x":345,"y":0.042},{"t":40,"x":360,"y":0.020},{"t":40,"x":400,"y":0.013},{"t":40,"x":450,"y":0.012},{"t":40,"x":500,"y":0.024},{"t":40,"x":540,"y":0.026},{"t":40,"x":560,"y":0.047},{"t":40,"x":580,"y":0.091},{"t":40,"x":600,"y":0.197},{"t":40,"x":612,"y":0.238},{"t":40,"x":625,"y":0.256},{"t":40,"x":640,"y":0.315},{"t":40,"x":652,"y":0.376},{"t":40,"x":663,"y":0.425},{"t":40,"x":673,"y":0.392},{"t":40,"x":682,"y":0.319},{"t":40,"x":692,"y":0.169},{"t":40,"x":702,"y":0.036},{"t":40,"x":712,"y":0.008},{"t":40,"x":730,"y":0.002},{"t":40,"x":800,"y":0.001},
{"t":50,"x":200,"y":0.050},{"t":50,"x":220,"y":0.042},{"t":50,"x":240,"y":0.037},{"t":50,"x":260,"y":0.042},{"t":50,"x":275,"y":0.048},{"t":50,"x":283,"y":0.084},{"t":50,"x":288,"y":0.161},{"t":50,"x":293,"y":0.220},{"t":50,"x":298,"y":0.178},{"t":50,"x":305,"y":0.116},{"t":50,"x":315,"y":0.107},{"t":50,"x":330,"y":0.081},{"t":50,"x":345,"y":0.044},{"t":50,"x":360,"y":0.022},{"t":50,"x":400,"y":0.013},{"t":50,"x":450,"y":0.012},{"t":50,"x":500,"y":0.023},{"t":50,"x":540,"y":0.025},{"t":50,"x":560,"y":0.041},{"t":50,"x":580,"y":0.078},{"t":50,"x":600,"y":0.164},{"t":50,"x":612,"y":0.197},{"t":50,"x":625,"y":0.212},{"t":50,"x":640,"y":0.260},{"t":50,"x":652,"y":0.310},{"t":50,"x":663,"y":0.350},{"t":50,"x":673,"y":0.323},{"t":50,"x":682,"y":0.264},{"t":50,"x":692,"y":0.141},{"t":50,"x":702,"y":0.031},{"t":50,"x":712,"y":0.008},{"t":50,"x":730,"y":0.002},{"t":50,"x":800,"y":0.001},
{"t":60,"x":200,"y":0.048},{"t":60,"x":220,"y":0.040},{"t":60,"x":240,"y":0.035},{"t":60,"x":260,"y":0.040},{"t":60,"x":275,"y":0.046},{"t":60,"x":283,"y":0.076},{"t":60,"x":288,"y":0.140},{"t":60,"x":293,"y":0.190},{"t":60,"x":298,"y":0.155},{"t":60,"x":305,"y":0.107},{"t":60,"x":315,"y":0.104},{"t":60,"x":330,"y":0.081},{"t":60,"x":345,"y":0.047},{"t":60,"x":360,"y":0.023},{"t":60,"x":400,"y":0.013},{"t":60,"x":450,"y":0.012},{"t":60,"x":500,"y":0.022},{"t":60,"x":540,"y":0.023},{"t":60,"x":560,"y":0.037},{"t":60,"x":580,"y":0.067},{"t":60,"x":600,"y":0.138},{"t":60,"x":612,"y":0.165},{"t":60,"x":625,"y":0.177},{"t":60,"x":640,"y":0.217},{"t":60,"x":652,"y":0.257},{"t":60,"x":663,"y":0.290},{"t":60,"x":673,"y":0.268},{"t":60,"x":682,"y":0.219},{"t":60,"x":692,"y":0.119},{"t":60,"x":702,"y":0.027},{"t":60,"x":712,"y":0.007},{"t":60,"x":730,"y":0.002},{"t":60,"x":800,"y":0.001},
{"t":70,"x":200,"y":0.045},{"t":70,"x":220,"y":0.037},{"t":70,"x":240,"y":0.032},{"t":70,"x":260,"y":0.037},{"t":70,"x":275,"y":0.043},{"t":70,"x":283,"y":0.069},{"t":70,"x":288,"y":0.123},{"t":70,"x":293,"y":0.165},{"t":70,"x":298,"y":0.135},{"t":70,"x":305,"y":0.100},{"t":70,"x":315,"y":0.102},{"t":70,"x":330,"y":0.081},{"t":70,"x":345,"y":0.049},{"t":70,"x":360,"y":0.024},{"t":70,"x":400,"y":0.013},{"t":70,"x":450,"y":0.012},{"t":70,"x":500,"y":0.022},{"t":70,"x":540,"y":0.022},{"t":70,"x":560,"y":0.033},{"t":70,"x":580,"y":0.057},{"t":70,"x":600,"y":0.114},{"t":70,"x":612,"y":0.135},{"t":70,"x":625,"y":0.145},{"t":70,"x":640,"y":0.176},{"t":70,"x":652,"y":0.209},{"t":70,"x":663,"y":0.235},{"t":70,"x":673,"y":0.218},{"t":70,"x":682,"y":0.179},{"t":70,"x":692,"y":0.098},{"t":70,"x":702,"y":0.024},{"t":70,"x":712,"y":0.006},{"t":70,"x":730,"y":0.002},{"t":70,"x":800,"y":0.001},
{"t":80,"x":200,"y":0.040},{"t":80,"x":220,"y":0.032},{"t":80,"x":240,"y":0.027},{"t":80,"x":260,"y":0.032},{"t":80,"x":275,"y":0.038},{"t":80,"x":283,"y":0.062},{"t":80,"x":288,"y":0.112},{"t":80,"x":293,"y":0.150},{"t":80,"x":298,"y":0.123},{"t":80,"x":305,"y":0.095},{"t":80,"x":315,"y":0.100},{"t":80,"x":330,"y":0.080},{"t":80,"x":345,"y":0.050},{"t":80,"x":360,"y":0.025},{"t":80,"x":400,"y":0.013},{"t":80,"x":450,"y":0.012},{"t":80,"x":500,"y":0.021},{"t":80,"x":540,"y":0.022},{"t":80,"x":560,"y":0.030},{"t":80,"x":580,"y":0.050},{"t":80,"x":600,"y":0.096},{"t":80,"x":612,"y":0.114},{"t":80,"x":625,"y":0.122},{"t":80,"x":640,"y":0.147},{"t":80,"x":652,"y":0.174},{"t":80,"x":663,"y":0.195},{"t":80,"x":673,"y":0.181},{"t":80,"x":682,"y":0.149},{"t":80,"x":692,"y":0.084},{"t":80,"x":702,"y":0.022},{"t":80,"x":712,"y":0.006},{"t":80,"x":730,"y":0.002},{"t":80,"x":800,"y":0.001},
{"t":90,"x":200,"y":0.042},{"t":90,"x":220,"y":0.034},{"t":90,"x":240,"y":0.029},{"t":90,"x":260,"y":0.034},{"t":90,"x":275,"y":0.040},{"t":90,"x":283,"y":0.061},{"t":90,"x":288,"y":0.103},{"t":90,"x":293,"y":0.135},{"t":90,"x":298,"y":0.112},{"t":90,"x":305,"y":0.091},{"t":90,"x":315,"y":0.099},{"t":90,"x":330,"y":0.079},{"t":90,"x":345,"y":0.051},{"t":90,"x":360,"y":0.026},{"t":90,"x":400,"y":0.013},{"t":90,"x":450,"y":0.012},{"t":90,"x":500,"y":0.020},{"t":90,"x":540,"y":0.021},{"t":90,"x":560,"y":0.028},{"t":90,"x":580,"y":0.044},{"t":90,"x":600,"y":0.081},{"t":90,"x":612,"y":0.095},{"t":90,"x":625,"y":0.101},{"t":90,"x":640,"y":0.122},{"t":90,"x":652,"y":0.143},{"t":90,"x":663,"y":0.160},{"t":90,"x":673,"y":0.149},{"t":90,"x":682,"y":0.123},{"t":90,"x":692,"y":0.071},{"t":90,"x":702,"y":0.020},{"t":90,"x":712,"y":0.006},{"t":90,"x":730,"y":0.002},{"t":90,"x":800,"y":0.001},
{"t":100,"x":200,"y":0.035},{"t":100,"x":220,"y":0.027},{"t":100,"x":240,"y":0.022},{"t":100,"x":260,"y":0.027},{"t":100,"x":275,"y":0.033},{"t":100,"x":283,"y":0.052},{"t":100,"x":288,"y":0.090},{"t":100,"x":293,"y":0.120},{"t":100,"x":298,"y":0.099},{"t":100,"x":305,"y":0.086},{"t":100,"x":315,"y":0.097},{"t":100,"x":330,"y":0.078},{"t":100,"x":345,"y":0.052},{"t":100,"x":360,"y":0.027},{"t":100,"x":400,"y":0.013},{"t":100,"x":450,"y":0.012},{"t":100,"x":500,"y":0.020},{"t":100,"x":540,"y":0.020},{"t":100,"x":560,"y":0.026},{"t":100,"x":580,"y":0.037},{"t":100,"x":600,"y":0.065},{"t":100,"x":612,"y":0.076},{"t":100,"x":625,"y":0.081},{"t":100,"x":640,"y":0.096},{"t":100,"x":652,"y":0.112},{"t":100,"x":663,"y":0.125},{"t":100,"x":673,"y":0.116},{"t":100,"x":682,"y":0.097},{"t":100,"x":692,"y":0.058},{"t":100,"x":702,"y":0.018},{"t":100,"x":712,"y":0.005},{"t":100,"x":730,"y":0.002},{"t":100,"x":800,"y":0.001},
{"t":110,"x":200,"y":0.025},{"t":110,"x":220,"y":0.019},{"t":110,"x":240,"y":0.016},{"t":110,"x":260,"y":0.020},{"t":110,"x":275,"y":0.024},{"t":110,"x":283,"y":0.041},{"t":110,"x":288,"y":0.077},{"t":110,"x":293,"y":0.105},{"t":110,"x":298,"y":0.085},{"t":110,"x":305,"y":0.082},{"t":110,"x":315,"y":0.096},{"t":110,"x":330,"y":0.077},{"t":110,"x":345,"y":0.054},{"t":110,"x":360,"y":0.027},{"t":110,"x":400,"y":0.013},{"t":110,"x":450,"y":0.012},{"t":110,"x":500,"y":0.020},{"t":110,"x":540,"y":0.020},{"t":110,"x":560,"y":0.024},{"t":110,"x":580,"y":0.033},{"t":110,"x":600,"y":0.054},{"t":110,"x":612,"y":0.062},{"t":110,"x":625,"y":0.066},{"t":110,"x":640,"y":0.078},{"t":110,"x":652,"y":0.090},{"t":110,"x":663,"y":0.100},{"t":110,"x":673,"y":0.093},{"t":110,"x":682,"y":0.079},{"t":110,"x":692,"y":0.048},{"t":110,"x":702,"y":0.016},{"t":110,"x":712,"y":0.005},{"t":110,"x":730,"y":0.002},{"t":110,"x":800,"y":0.002},
{"t":120,"x":200,"y":0.030},{"t":120,"x":220,"y":0.023},{"t":120,"x":240,"y":0.019},{"t":120,"x":260,"y":0.023},{"t":120,"x":275,"y":0.028},{"t":120,"x":283,"y":0.046},{"t":120,"x":288,"y":0.082},{"t":120,"x":293,"y":0.110},{"t":120,"x":298,"y":0.090},{"t":120,"x":305,"y":0.083},{"t":120,"x":315,"y":0.096},{"t":120,"x":330,"y":0.078},{"t":120,"x":345,"y":0.053},{"t":120,"x":360,"y":0.027},{"t":120,"x":400,"y":0.014},{"t":120,"x":450,"y":0.013},{"t":120,"x":500,"y":0.019},{"t":120,"x":540,"y":0.019},{"t":120,"x":560,"y":0.022},{"t":120,"x":580,"y":0.029},{"t":120,"x":600,"y":0.045},{"t":120,"x":612,"y":0.051},{"t":120,"x":625,"y":0.054},{"t":120,"x":640,"y":0.063},{"t":120,"x":652,"y":0.073},{"t":120,"x":663,"y":0.080},{"t":120,"x":673,"y":0.075},{"t":120,"x":682,"y":0.064},{"t":120,"x":692,"y":0.041},{"t":120,"x":702,"y":0.015},{"t":120,"x":712,"y":0.005},{"t":120,"x":730,"y":0.002},{"t":120,"x":800,"y":0.001}
]
},
"vconcat": [
{
 "width": 571, "height": 458,
 "layer": [
  {"data": {"name": "a"}, "mark": {"type": "line", "strokeWidth": 3, "interpolate": "monotone"},
   "encoding": {
    "x": {"field": "x", "type": "quantitative", "scale": {"domain": [200, 800], "nice": false, "zero": false}, "axis": {"values": [200,300,400,500,600,700,800], "title": "Wavelength / nm", "titlePadding": 17}},
    "y": {"field": "y", "type": "quantitative", "scale": {"domain": [0, 1], "nice": false}, "axis": {"values": [0,0.2,0.4,0.6,0.8,1], "format": ".1f", "title": "Absorbance / a.u.", "titleY": 243}},
    "color": {"field": "t", "type": "nominal", "legend": null, "scale": {"domain": [0,10,20,30,40,50,60,70,80,90,100,110,120], "range": ["#000000","#FF0000","#0000FF","#008080","#FF00FF","#808000","#000080","#800000","#FF0080","#008000","#0000A0","#FF8000","#800080"]}}
   }},
  {"data": {"values": [{}]}, "mark": {"type": "text", "align": "left", "baseline": "middle", "fontSize": 19, "font": "DejaVu Sans"}, "encoding": {"x": {"datum": 576, "type": "quantitative"}, "y": {"datum": 0.955, "type": "quantitative"}, "text": {"value": "(a) ZnO"}}},
  {"data": {"values": [{}]}, "mark": {"type": "text", "align": "left", "baseline": "middle", "fontSize": 18, "font": "DejaVu Sans"}, "encoding": {"x": {"datum": 398, "type": "quantitative"}, "y": {"datum": 0.669, "type": "quantitative"}, "text": {"value": "0 min"}}},
  {"data": {"values": [{}]}, "mark": {"type": "text", "align": "left", "baseline": "middle", "fontSize": 18, "font": "DejaVu Sans"}, "encoding": {"x": {"datum": 400, "type": "quantitative"}, "y": {"datum": 0.317, "type": "quantitative"}, "text": {"value": "120 min"}}},
  {"data": {"values": [{}]}, "mark": {"type": "rule", "color": "#000", "strokeWidth": 1.5}, "encoding": {"x": {"datum": 403, "type": "quantitative"}, "y": {"datum": 0.643, "type": "quantitative"}, "y2": {"datum": 0.372}}},
  {"data": {"values": [{}]}, "mark": {"type": "point", "shape": "triangle-down", "filled": true, "color": "#000", "opacity": 1, "size": 45}, "encoding": {"x": {"datum": 403, "type": "quantitative"}, "y": {"datum": 0.366, "type": "quantitative"}}}
 ]
},
{
 "width": 571, "height": 459,
 "layer": [
  {"data": {"name": "b"}, "mark": {"type": "line", "strokeWidth": 3, "interpolate": "monotone"},
   "encoding": {
    "x": {"field": "x", "type": "quantitative", "scale": {"domain": [200, 800], "nice": false, "zero": false}, "axis": {"values": [200,300,400,500,600,700,800], "title": "Wavelength / nm", "titlePadding": 26}},
    "y": {"field": "y", "type": "quantitative", "scale": {"domain": [0, 1], "nice": false}, "axis": {"values": [0,0.2,0.4,0.6,0.8,1], "format": ".1f", "title": "Absorbance / a.u.", "titleY": 244}},
    "color": {"field": "t", "type": "nominal", "legend": null, "scale": {"domain": [0,10,20,30,40,50,60,70,80,90,100,110,120], "range": ["#000000","#FF0000","#0000FF","#008080","#FF00FF","#808000","#000080","#800000","#FF0080","#008000","#0000A0","#FF8000","#800080"]}}
   }},
  {"data": {"values": [{}]}, "mark": {"type": "text", "align": "left", "baseline": "middle", "fontSize": 19, "font": "DejaVu Sans"}, "encoding": {"x": {"datum": 574, "type": "quantitative"}, "y": {"datum": 0.956, "type": "quantitative"}, "text": {"value": "(b)  ZnO/Pt-patterns"}}},
  {"data": {"values": [{}]}, "mark": {"type": "text", "align": "left", "baseline": "middle", "fontSize": 18, "font": "DejaVu Sans"}, "encoding": {"x": {"datum": 398, "type": "quantitative"}, "y": {"datum": 0.669, "type": "quantitative"}, "text": {"value": "0 min"}}},
  {"data": {"values": [{}]}, "mark": {"type": "text", "align": "left", "baseline": "middle", "fontSize": 18, "font": "DejaVu Sans"}, "encoding": {"x": {"datum": 400, "type": "quantitative"}, "y": {"datum": 0.318, "type": "quantitative"}, "text": {"value": "120 min"}}},
  {"data": {"values": [{}]}, "mark": {"type": "rule", "color": "#000", "strokeWidth": 1.5}, "encoding": {"x": {"datum": 403, "type": "quantitative"}, "y": {"datum": 0.643, "type": "quantitative"}, "y2": {"datum": 0.372}}},
  {"data": {"values": [{}]}, "mark": {"type": "point", "shape": "triangle-down", "filled": true, "color": "#000", "opacity": 1, "size": 45}, "encoding": {"x": {"datum": 403, "type": "quantitative"}, "y": {"datum": 0.366, "type": "quantitative"}}}
 ]
},
{
 "width": 580, "height": 467,
 "title": {"text": " ", "fontSize": 15, "offset": 4},
 "layer": [
  {"data": {"name": "c"}, "mark": {"type": "line", "strokeWidth": 3, "interpolate": "monotone"},
   "encoding": {
    "x": {"field": "x", "type": "quantitative", "scale": {"domain": [200, 800], "nice": false, "zero": false}, "axis": {"values": [200,300,400,500,600,700,800], "title": "Wavelength / nm", "titlePadding": 19}},
    "y": {"field": "y", "type": "quantitative", "scale": {"domain": [0, 1], "nice": false}, "axis": {"values": [0,0.2,0.4,0.6,0.8,1], "format": ".1f", "title": "Absorbance / a.u.", "titleY": 248}},
    "color": {"field": "t", "type": "nominal", "legend": null, "scale": {"domain": [0,10,20,30,40,50,60,70,80,90,100,110,120], "range": ["#000000","#FF0000","#0000FF","#008080","#FF00FF","#808000","#000080","#800000","#FF0080","#008000","#0000A0","#FF8000","#800080"]}}
   }},
  {"data": {"values": [{}]}, "mark": {"type": "text", "align": "left", "baseline": "middle", "fontSize": 19, "font": "DejaVu Sans"}, "encoding": {"x": {"datum": 574, "type": "quantitative"}, "y": {"datum": 0.955, "type": "quantitative"}, "text": {"value": "(c)  ZnO/Pt-film"}}},
  {"data": {"values": [{}]}, "mark": {"type": "text", "align": "left", "baseline": "middle", "fontSize": 18, "font": "DejaVu Sans"}, "encoding": {"x": {"datum": 399, "type": "quantitative"}, "y": {"datum": 0.669, "type": "quantitative"}, "text": {"value": "0 min"}}},
  {"data": {"values": [{}]}, "mark": {"type": "text", "align": "left", "baseline": "middle", "fontSize": 18, "font": "DejaVu Sans"}, "encoding": {"x": {"datum": 400, "type": "quantitative"}, "y": {"datum": 0.317, "type": "quantitative"}, "text": {"value": "120 min"}}},
  {"data": {"values": [{}]}, "mark": {"type": "rule", "color": "#000", "strokeWidth": 1.5}, "encoding": {"x": {"datum": 405, "type": "quantitative"}, "y": {"datum": 0.641, "type": "quantitative"}, "y2": {"datum": 0.37}}},
  {"data": {"values": [{}]}, "mark": {"type": "point", "shape": "triangle-down", "filled": true, "color": "#000", "opacity": 1, "size": 45}, "encoding": {"x": {"datum": 405, "type": "quantitative"}, "y": {"datum": 0.364, "type": "quantitative"}}}
 ]
}
]
}
